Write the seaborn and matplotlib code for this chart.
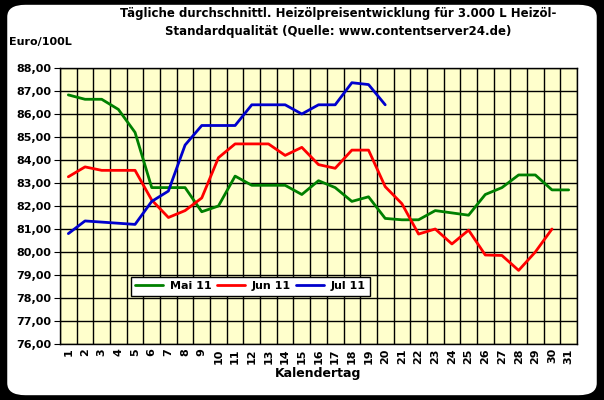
import matplotlib
matplotlib.use("Agg")
import matplotlib.pyplot as plt
import seaborn as sns
import pandas as pd
import numpy as np
from matplotlib.patches import FancyBboxPatch

days = list(range(1, 32))
mai = [86.83, 86.64, 86.64, 86.2, 85.2, 82.8, 82.8, 82.8, 81.75, 82.0, 83.3, 82.9, 82.9, 82.9, 82.5, 83.1,
       82.8, 82.2, 82.4, 81.46, 81.4, 81.4, 81.8, 81.7, 81.6, 82.5, 82.8, 83.35, 83.35, 82.7, 82.7]
jun = [83.27, 83.7, 83.55, 83.55, 83.55, 82.26, 81.5, 81.8, 82.35, 84.1, 84.7, 84.7, 84.7, 84.2, 84.55, 83.8,
       83.64, 84.43, 84.43, 82.84, 82.1, 80.78, 81.0, 80.35, 80.95, 79.87, 79.85, 79.2, 80.0, 81.0]
jul = [80.8, 81.35, 81.3, 81.25, 81.2, 82.2, 82.65, 84.65, 85.5, 85.5, 85.5, 86.4, 86.4, 86.4, 86.0, 86.4,
       86.4, 87.36, 87.28, 86.4]
series_names = ["Mai 11", "Jun 11", "Jul 11"]
colors = ["#008000", "#FF0000", "#0000CC"]

rows = []
for name, vals in zip(series_names, [mai, jun, jul]):
    for d, v in zip(days, vals):
        rows.append({"Tag": d, "Preis": v, "Monat": name})
df = pd.DataFrame(rows)

sns.set_style("white")
plt.rcParams['font.family'] = ['DejaVu Sans']
plt.rcParams['text.color'] = 'black'
plt.rcParams['axes.labelcolor'] = 'black'
plt.rcParams['xtick.color'] = 'black'
plt.rcParams['ytick.color'] = 'black'
fig = plt.figure(figsize=(6.04, 4.0), dpi=100)
fig.patch.set_facecolor("black")
fig.patches.append(FancyBboxPatch((0.012, 0.012), 0.976, 0.976, boxstyle="round,pad=0,rounding_size=0.03",
                                  transform=fig.transFigure, facecolor="white", edgecolor="none", zorder=-10))
ax = fig.add_axes([60/604, 1-344/400, 517/604, 276/400])
ax.set_facecolor("#FFFFCC")
sns.lineplot(data=df, x="Tag", y="Preis", hue="Monat", palette=colors, linewidth=2, ax=ax)
ax.set_xlim(0.5, 31.5)
ax.set_ylim(76, 88)
ax.set_yticks(np.arange(76, 88.01, 1))
ax.set_yticklabels([f"{v:.2f}".replace(".", ",") for v in np.arange(76, 88.01, 1)], fontsize=8, fontweight="bold")
ax.set_xticks(days)
ax.set_xticklabels([str(d) for d in days], rotation=90, fontsize=8, fontweight="bold")
ax.set_xticks(np.arange(0.5, 31.6, 1), minor=True)
ax.tick_params(axis="x", which="major", length=0, pad=3)
ax.tick_params(axis="x", which="minor", length=4, color="black", direction="out")
ax.tick_params(axis="y", length=4, color="black", direction="out", left=True, pad=2)
ax.grid(False)
for v in np.arange(0.5, 31.6, 1):
    ax.axvline(v, color="black", linewidth=1, zorder=0)
for v in np.arange(76, 88.01, 1):
    ax.axhline(v, color="black", linewidth=1, zorder=0)
for s in ax.spines.values():
    s.set_color("black")
    s.set_linewidth(1)
ax.set_xlabel("Kalendertag", fontsize=9, fontweight="bold", labelpad=2)
ax.set_ylabel("")
leg = ax.legend(ncol=3, loc="lower left", bbox_to_anchor=(0.126, 0.155, 0.485, 0.11), mode="expand",
                frameon=True, fancybox=False, prop={"weight": "bold", "size": 8}, handlelength=2.5,
                handletextpad=0.6, columnspacing=1.5)
leg.get_frame().set_edgecolor("black")
leg.get_frame().set_facecolor("white")
leg.get_frame().set_alpha(1)
fig.text(0.56, 0.945, "Tägliche durchschnittl. Heizölpreisentwicklung für 3.000 L Heizöl-\nStandardqualität (Quelle: www.contentserver24.de)",
         ha="center", va="center", fontsize=8.5, fontweight="bold", linespacing=1.5, color="black")
fig.text(0.015, 0.895, "Euro/100L", fontsize=8, fontweight="bold", va="center", color="black")
fig.savefig("out.png", dpi=100, facecolor=fig.get_facecolor())
